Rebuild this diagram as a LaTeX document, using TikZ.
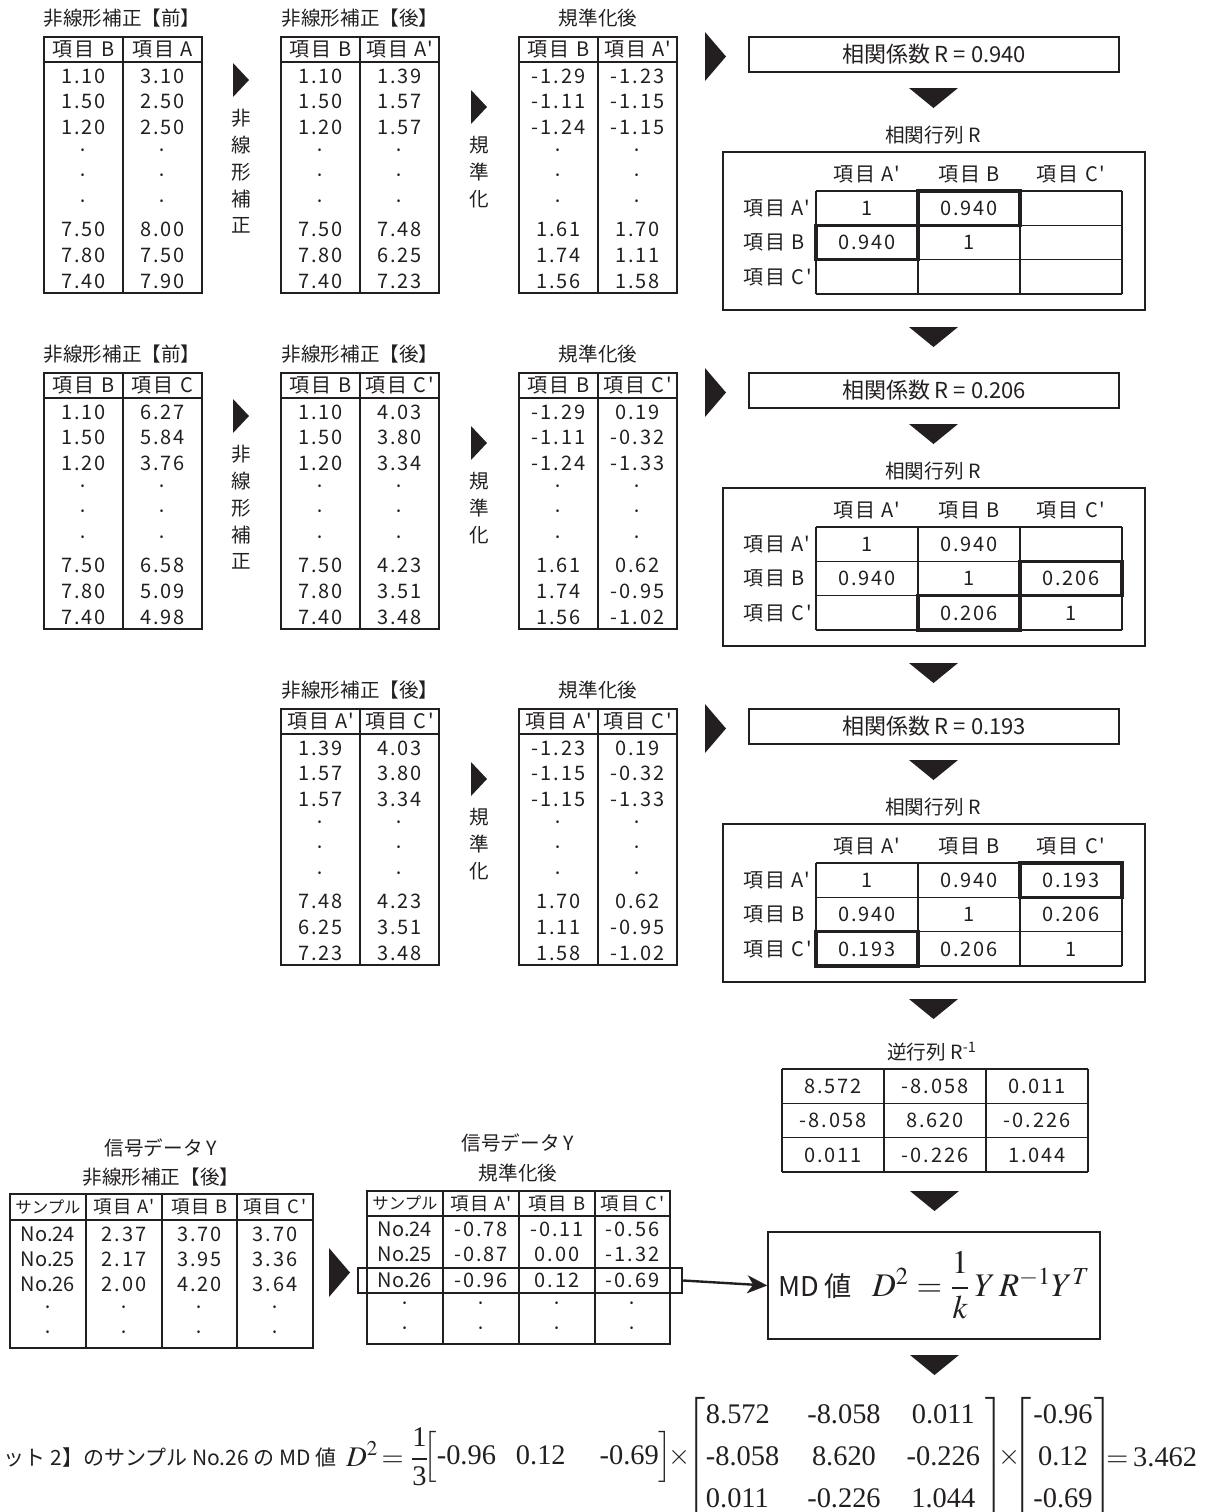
\documentclass[tikz,border=0pt]{standalone}
\usepackage{amsmath}
\usepackage{mathptmx}
\usepackage[no-math]{fontspec}
\setmainfont{Noto Sans CJK JP}[Ligatures=TeXOff]
\newfontfamily\spaced{Noto Sans CJK JP}[Ligatures=TeXOff,LetterSpace=10]
\newfontfamily\tnr{Liberation Serif}[Ligatures=TeXOff]
\usetikzlibrary{positioning,arrows.meta}
\definecolor{ink}{RGB}{35,31,32}
\newcommand{\tv}[1]{\text{\tnr #1}}
% filled pointer triangles: left x, top y, width, height
\newcommand{\rtri}[4]{\fill[ink] (#1,#2) -- (#1+#3,#2+#4/2) -- (#1,#2+#4) -- cycle;}
\newcommand{\dtri}[4]{\fill[ink] (#1,#2) -- (#1+#3,#2) -- (#1+#3/2,#2+#4) -- cycle;}
% two-column data table: name, left x, top y, head 1, head 2, rows
\newcommand{\pairtab}[6]{%
  \draw[tline] (#2,#3) rectangle ++(158,256);
  \draw[tline] (#2,#3+25) -- ++(158,0) (#2+79,#3) -- ++(0,256);
  \node[cell] (#1h1) at (#2+39.5,#3+12.5) {#4};
  \node[cell] (#1h2) at (#2+118.5,#3+12.5) {#5};
  \foreach \a/\b [count=\i] in {#6}{
    \node[cell] (#1a\i) at (#2+39.5,#3+13.5+25.6*\i) {\a};
    \node[cell] (#1b\i) at (#2+118.5,#3+13.5+25.6*\i) {\b};}}
\tikzset{
  tline/.style={draw=ink,line width=0.7pt},
  bline/.style={draw=ink,line width=1.6pt},
  cell/.style={inner sep=0pt,text=ink,font=\spaced\fontsize{10}{12}\selectfont},
  scell/.style={inner sep=0pt,text=ink,font=\fontsize{8.2}{10}\selectfont},
  ttl/.style={inner sep=0pt,text=ink,font=\fontsize{9.8}{12}\selectfont},
  vtxt/.style={ttl,align=center,font=\fontsize{9.8}{13.4}\selectfont},
  eqn/.style={inner sep=0pt,text=ink,font=\fontsize{14.2}{17}\selectfont},
  rbox/.style={draw=ink,line width=0.75pt,minimum width=185pt,minimum height=17.5pt,inner sep=0pt,text=ink,font=\fontsize{11}{13}\selectfont},
  hlbox/.style={draw=ink,line width=1.2pt,minimum width=162pt,minimum height=12.5pt,inner sep=0pt},
  mdbox/.style={draw=ink,line width=0.75pt,minimum width=166pt,minimum height=53.5pt,inner sep=0pt,text=ink},
  conn/.style={draw=ink,line width=1.2pt,-{Stealth[length=10pt,width=9pt,inset=3pt]}}
}
\begin{document}
\begin{tikzpicture}[x=0.5pt,y=-0.5pt]
\useasboundingbox (0,0) rectangle (1208,1512);
% --- step 1: B and A
\node[ttl] (ta1) at (122,18) {非線形補正【前】};
\node[ttl] (tb1) at (360,18) {非線形補正【後】};
\node[ttl] (tc1) at (598,18) {規準化後};
\pairtab{pa1}{44}{37}{項目 B}{項目 A}{1.10/3.10,1.50/2.50,1.20/2.50,·/·,·/·,·/·,7.50/8.00,7.80/7.50,7.40/7.90}
\pairtab{pb1}{281}{37}{項目 B}{項目 A'}{1.10/1.39,1.50/1.57,1.20/1.57,·/·,·/·,·/·,7.50/7.48,7.80/6.25,7.40/7.23}
\pairtab{pc1}{519}{37}{項目 B}{項目 A'}{-1.29/-1.23,-1.11/-1.15,-1.24/-1.15,·/·,·/·,·/·,1.61/1.70,1.74/1.11,1.56/1.58}
% --- step 2: B and C
\node[ttl] (ta2) at (122,354) {非線形補正【前】};
\node[ttl] (tb2) at (360,354) {非線形補正【後】};
\node[ttl] (tc2) at (598,354) {規準化後};
\pairtab{pa2}{44}{373}{項目 B}{項目 C}{1.10/6.27,1.50/5.84,1.20/3.76,·/·,·/·,·/·,7.50/6.58,7.80/5.09,7.40/4.98}
\pairtab{pb2}{281}{373}{項目 B}{項目 C'}{1.10/4.03,1.50/3.80,1.20/3.34,·/·,·/·,·/·,7.50/4.23,7.80/3.51,7.40/3.48}
\pairtab{pc2}{519}{373}{項目 B}{項目 C'}{-1.29/0.19,-1.11/-0.32,-1.24/-1.33,·/·,·/·,·/·,1.61/0.62,1.74/-0.95,1.56/-1.02}
% --- step 3: A' and C'
\node[ttl] (tb3) at (360,690) {非線形補正【後】};
\node[ttl] (tc3) at (598,690) {規準化後};
\pairtab{pb3}{281}{709}{項目 A'}{項目 C'}{1.39/4.03,1.57/3.80,1.57/3.34,·/·,·/·,·/·,7.48/4.23,6.25/3.51,7.23/3.48}
\pairtab{pc3}{519}{709}{項目 A'}{項目 C'}{-1.23/0.19,-1.15/-0.32,-1.15/-1.33,·/·,·/·,·/·,1.70/0.62,1.11/-0.95,1.58/-1.02}
% pointers between tables
\foreach \off in {0,336}{
  \rtri{233}{63+\off}{16}{34}
  \node[vtxt] (nl\off) at (241,171.5+\off) {非\\線\\形\\補\\正};}
\foreach \off in {0,336,672}{
  \rtri{471}{90+\off}{16}{34}
  \node[vtxt] (st\off) at (479,172+\off) {規\\準\\化};}
% correlation coefficient and matrix for each step
\foreach \off/\rv/\vals in {0/0.940/{1,0.940,{},0.940,1,{},{},{},{}},
    336/0.206/{1,0.940,{},0.940,1,0.206,{},0.206,1},
    672/0.193/{1,0.940,0.193,0.940,1,0.206,0.193,0.206,1}}{
  \rtri{705}{32+\off}{21}{49}
  \node[rbox] (rb\off) at (934,54.5+\off) {相関係数 R = \rv};
  \dtri{909}{88+\off}{49}{20}
  \node[ttl] (rt\off) at (933,135+\off) {相関行列 R};
  \draw[tline] (723,152+\off) rectangle (1145,310+\off);
  \foreach \h [count=\j] in {項目 A',項目 B,項目 C'}{
    \node[cell] (ch\off-\j) at (765+102*\j,174+\off) {\h};
    \node[cell,anchor=west] (rh\off-\j) at (743,174+34.33*\j+\off) {\h};}
  \foreach \cv [count=\k] in \vals {
    \pgfmathtruncatemacro\ri{(\k-1)/3}\pgfmathtruncatemacro\ci{mod(\k-1,3)}
    \node[cell] (m\off-\k) at (867+102*\ci,208.2+34.33*\ri+\off) {\cv};}
  \foreach \j in {0,...,3}{
    \draw[tline] (816+102*\j,191+\off) -- ++(0,103);
    \draw[tline] (816,191+34.33*\j+\off) -- ++(306,0);}
  \dtri{909}{327+\off}{49}{20}}
% highlighted pairs
\foreach \off/\ra/\cb in {0/0/1,336/1/2,672/0/2}{
  \draw[bline] (816+102*\cb,191+34.33*\ra+\off) rectangle ++(102,34.33);
  \draw[bline] (816+102*\ra,191+34.33*\cb+\off) rectangle ++(102,34.33);}
% inverse matrix
\node[ttl] (inv) at (932,1052) {逆行列 R\textsuperscript{-1}};
\foreach \cv [count=\k] in {8.572,-8.058,0.011,-8.058,8.620,-0.226,0.011,-0.226,1.044}{
  \pgfmathtruncatemacro\ri{(\k-1)/3}\pgfmathtruncatemacro\ci{mod(\k-1,3)}
  \node[cell] (iv\k) at (833+102*\ci,1086.2+34.33*\ri) {\cv};}
\foreach \j in {0,...,3}{
  \draw[tline] (782+102*\j,1069) -- ++(0,103);
  \draw[tline] (782,1069+34.33*\j) -- ++(306,0);}
\dtri{910}{1191}{49}{20}
\node[mdbox] (md) at (934,1285.5) {{\fontsize{13.6}{16}\selectfont MD 値}\quad{\fontsize{16.5}{20}\selectfont$D^2=\dfrac{1}{k}\,Y\,R^{-1}Y^T$}};
\dtri{910}{1355}{49}{20}
% signal data Y
\node[ttl] (ya1) at (161,1148) {信号データ Y};
\node[ttl] (ya2) at (161,1177) {非線形補正【後】};
\draw[tline] (10,1194) rectangle (313,1348) (10,1220) -- (313,1220);
\foreach \x in {86,162,237} \draw[tline] (\x,1194) -- (\x,1348);
\node[scell] (sh0) at (48,1207) {サンプル};
\foreach \h/\x [count=\j] in {項目 A'/124,項目 B/199.5,項目 C'/275}
  \node[cell,font=\spaced\fontsize{9.2}{11}\selectfont] (sh\j) at (\x,1207) {\h};
\foreach \n/\a/\b/\cv [count=\i] in {No.24/2.37/3.70/3.70,No.25/2.17/3.95/3.36,No.26/2.00/4.20/3.64,·/·/·/·,·/·/·/·}{
  \node[ttl,font=\fontsize{10}{12}\selectfont] (sn\i) at (48,1208.7+25.3*\i) {\n};
  \node[cell] (sa\i) at (124,1208.7+25.3*\i) {\a};
  \node[cell] (sb\i) at (199.5,1208.7+25.3*\i) {\b};
  \node[cell] (sc\i) at (275,1208.7+25.3*\i) {\cv};}
\rtri{329}{1248}{21}{49}
\node[ttl] (yb1) at (518,1143) {信号データ Y};
\node[ttl] (yb2) at (518,1173) {規準化後};
\draw[tline] (367,1191) rectangle (670,1344) (367,1216) -- (670,1216);
\foreach \x in {443,519,595} \draw[tline] (\x,1191) -- (\x,1344);
\node[scell] (zh0) at (405,1203.5) {サンプル};
\foreach \h/\x [count=\j] in {項目 A'/481,項目 B/557,項目 C'/632.5}
  \node[cell,font=\spaced\fontsize{9.2}{11}\selectfont] (zh\j) at (\x,1203.5) {\h};
\foreach \n/\a/\b/\cv [count=\i] in {No.24/-0.78/-0.11/-0.56,No.25/-0.87/0.00/-1.32,No.26/-0.96/0.12/-0.69,·/·/·/·,·/·/·/·}{
  \node[ttl,font=\fontsize{10}{12}\selectfont] (zn\i) at (405,1203.4+25.6*\i) {\n};
  \node[cell] (za\i) at (481,1203.4+25.6*\i) {\a};
  \node[cell] (zb\i) at (557,1203.4+25.6*\i) {\b};
  \node[cell] (zc\i) at (632.5,1203.4+25.6*\i) {\cv};}
\node[hlbox] (hl) at (520,1280.5) {};
\draw[conn] (hl.east) -- (md.west);
% worked example
\node[ttl,anchor=east,font=\fontsize{10.5}{12}\selectfont] (lbl) at (337,1458) {ット 2】のサンプル No.26 の MD 値};
\node[eqn,anchor=west] (eqa) at (346,1457) {$D^2\mskip2mu{=}\mskip4mu\dfrac{\tv{1}}{\tv{3}}$};
\node[eqn,anchor=west] (rowv) at (423,1457) {$\Big[\tv{-0.96}\hspace{10pt}\tv{0.12}\hspace{17pt}\tv{-0.69}\Big]$};
\node[eqn] (tm1) at (680,1457) {$\times$};
\node[eqn] (invm) at (845,1457) {\renewcommand{\arraystretch}{1.235}%
  $\left[\begin{array}{@{\hspace{0.5pt}}l@{\hspace{14pt}}c@{\hspace{13pt}}c@{\hspace{2.5pt}}}\tv{8.572}&\tv{-8.058}&\tv{0.011}\\ \tv{-8.058}&\tv{8.620}&\tv{-0.226}\\ \tv{0.011}&\tv{-0.226}&\tv{1.044}\end{array}\right]$};
\node[eqn] (tm2) at (1010,1457) {$\times$};
\node[eqn] (colv) at (1063,1457) {\renewcommand{\arraystretch}{1.235}%
  $\left[\begin{array}{@{\hspace{1pt}}c@{\hspace{1pt}}}\tv{-0.96}\\ \tv{0.12}\\ \tv{-0.69}\end{array}\right]$};
\node[eqn,anchor=west] (res) at (1106,1457) {${=}\mskip3mu\tv{3.462}$};
\end{tikzpicture}
\end{document}
